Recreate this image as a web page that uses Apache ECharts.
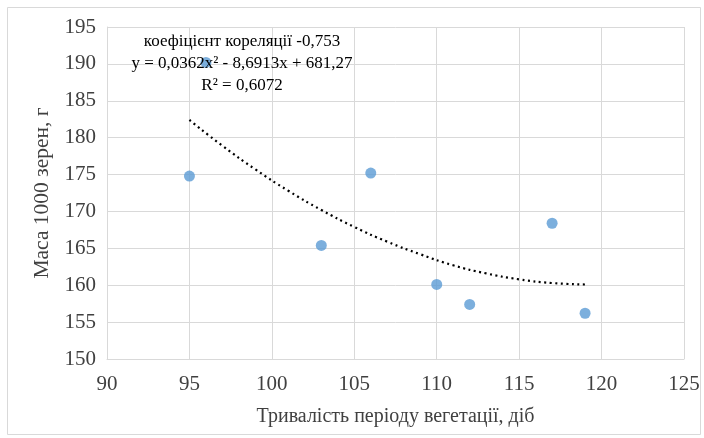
<!DOCTYPE html>
<html><head><meta charset="utf-8">
<script src="https://cdn.jsdelivr.net/npm/echarts@6/dist/echarts.min.js"></script>
<style>html,body{margin:0;padding:0;background:#fff}#c{width:704px;height:438px}</style>
</head><body><div id="c"></div>
<script>
const durationDays = [95, 96, 103, 106, 110, 112, 117, 119];
const grainMass = [174.8, 190.2, 165.4, 175.2, 160.1, 157.4, 168.4, 156.2];
const trendX = [95, 97, 99, 101, 103, 105, 107, 109, 111, 113, 115, 117, 119];
const trendY = [182.4, 178.9, 175.7, 172.8, 170.2, 167.9, 165.9, 164.2, 162.7, 161.6, 160.8, 160.3, 160.1];
const xTitle = 'Тривалість періоду вегетації, діб';
const yTitle = 'Маса 1000 зерен, г';
const annotationLines = ['коефіцієнт кореляції -0,753', 'y = 0,0362x² - 8,6913x + 681,27', 'R² = 0,6072'];

const font = '"Liberation Serif", "Times New Roman", serif';
const chart = echarts.init(document.getElementById('c'), null, {renderer: 'canvas'});
chart.setOption({
  animation: false,
  backgroundColor: '#fff',
  textStyle: {fontFamily: font},
  grid: {left: 107, right: 20, top: 27, bottom: 79},
  xAxis: {
    type: 'value', min: 90, max: 125, interval: 5,
    name: xTitle, nameLocation: 'middle', nameGap: 48,
    nameTextStyle: {fontFamily: font, fontSize: 20, color: '#404040'},
    axisLine: {show: true, lineStyle: {color: '#d9d9d9'}},
    axisTick: {show: false},
    axisLabel: {fontFamily: font, fontSize: 21, color: '#404040', margin: 15},
    splitLine: {show: true, lineStyle: {color: '#d9d9d9', width: 1}}
  },
  yAxis: {
    type: 'value', min: 150, max: 195, interval: 5,
    name: yTitle, nameLocation: 'middle', nameGap: 53, nameRotate: 90,
    nameTextStyle: {fontFamily: font, fontSize: 21.5, color: '#404040'},
    axisLine: {show: true, lineStyle: {color: '#d9d9d9'}},
    axisTick: {show: false},
    axisLabel: {fontFamily: font, fontSize: 21, color: '#404040', margin: 11},
    splitLine: {show: true, lineStyle: {color: '#d9d9d9', width: 1}}
  },
  graphic: [
    {type: 'rect', left: 5, top: 5, shape: {width: 693, height: 427}, style: {fill: 'none', stroke: '#d9d9d9', lineWidth: 1}, silent: true, z: -1},
    {type: 'text', x: 242, y: 31, z: 10, style: {text: annotationLines.join('\n'), font: '17px "Liberation Serif", "Times New Roman", serif', fill: '#000', align: 'center', lineHeight: 22}}
  ],
  series: [
    {
      type: 'line', data: trendX.map((x, i) => [x, trendY[i]]), smooth: true, symbol: 'none',
      lineStyle: {color: '#000', width: 2.2, type: [2, 3.5]}, z: 2
    },
    {
      type: 'scatter', data: durationDays.map((x, i) => [x, grainMass[i]]),
      symbolSize: 11, itemStyle: {color: '#5B9BD5'}, z: 3
    }
  ]
});
</script></body></html>
